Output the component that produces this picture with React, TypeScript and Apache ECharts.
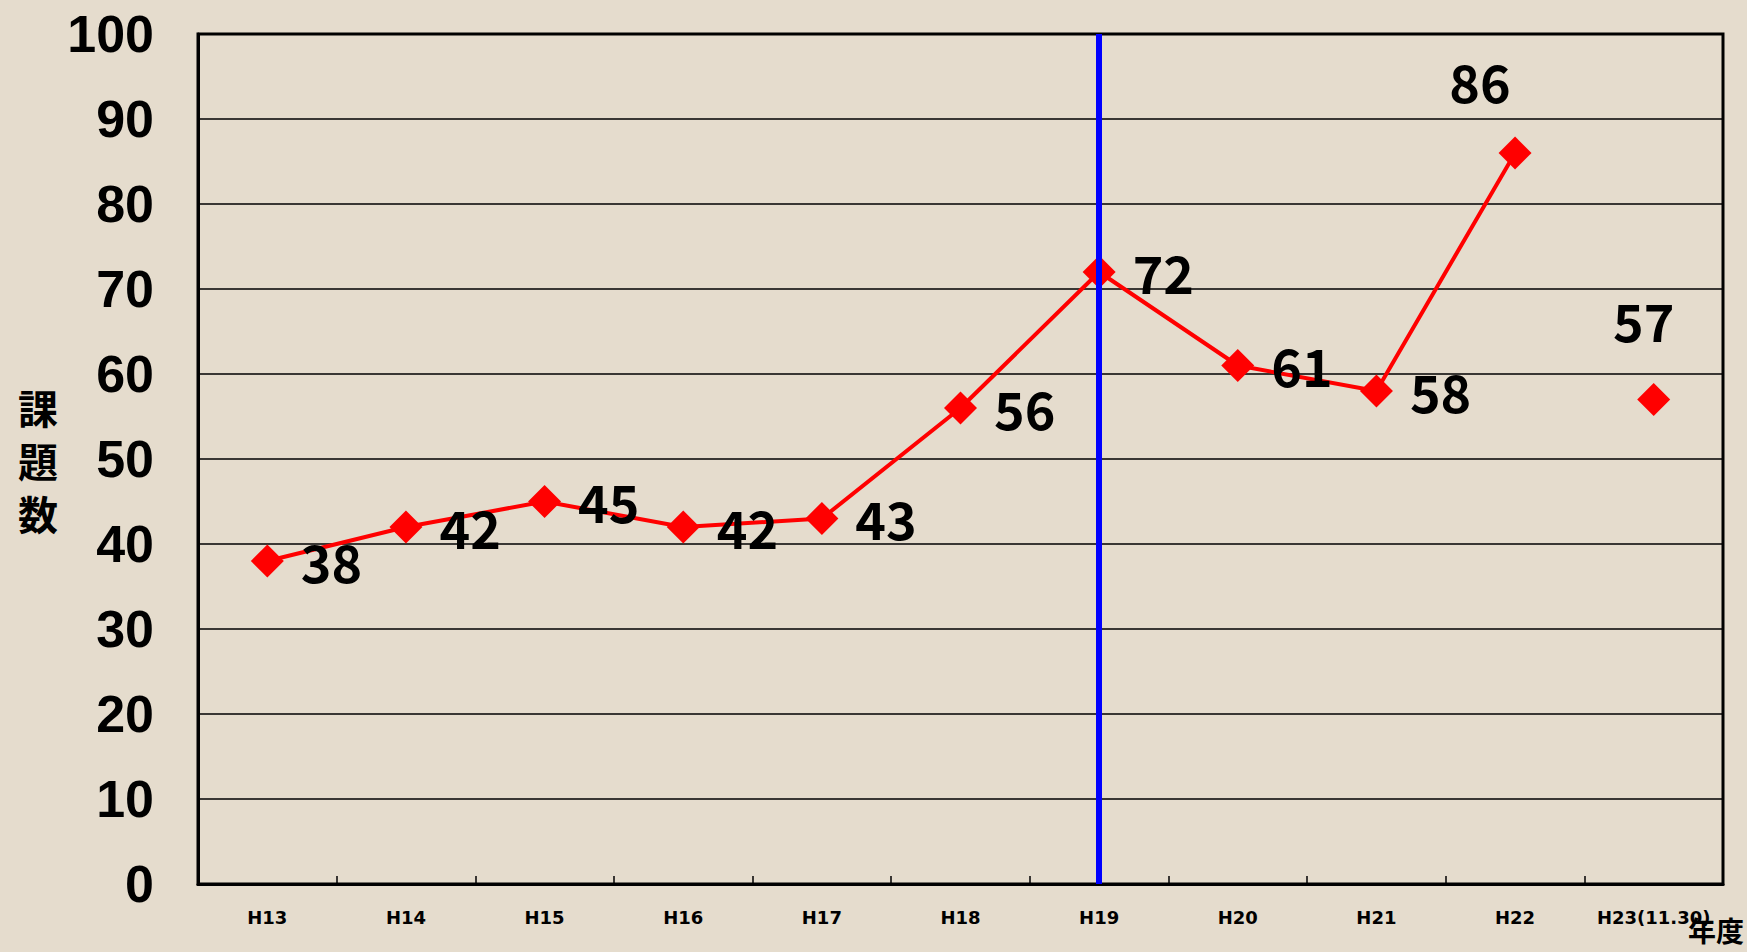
import React, { useEffect, useRef } from "react";
import * as echarts from "echarts";

// Fiscal years on the x axis
const categories = [
  "H13", "H14", "H15", "H16", "H17", "H18", "H19", "H20", "H21", "H22", "H23(11.30)",
];

// Yearly issue counts H13–H22 (connected line)
const issueCounts = [38, 42, 45, 42, 43, 56, 72, 61, 58, 86];

// H23 partial-year count (as of 11.30), drawn as a standalone point
const latestCount = 57;

// Year marked with the vertical reference line
const markedYear = "H19";

// Vertical axis title, one character per line
const yTitleChars = ["課", "題", "数"];

const yTicks = { min: 0, max: 100, interval: 10 };

const BG = "#e5dccd";
const RED = "#ff0000";

export default function App() {
  const ref = useRef<HTMLDivElement>(null);

  useEffect(() => {
    if (!ref.current) return;
    const chart = echarts.init(ref.current, undefined, { renderer: "svg" });

    const labelBase = {
      show: true,
      position: "right" as const,
      distance: 17,
      offset: [0, -1],
      color: "#000",
      fontSize: 52,
      fontWeight: "bold" as const,
      fontFamily: "'Noto Sans CJK JP', sans-serif",
    };

    const lineData = issueCounts.map((v) => {
      if (v === 86) {
        return {
          value: v,
          label: { position: "top" as const, distance: 30, offset: [-35, 0] },
        };
      }
      return v;
    });
    const padded = [...lineData, null];

    const latestData = categories.map((_, i) =>
      i === categories.length - 1 ? latestCount : null
    );

    const titleGraphics = yTitleChars.map((ch, i) => ({
      type: "text",
      x: 38,
      y: 407 + i * 53,
      style: {
        text: ch,
        font: "bold 40px 'Noto Sans CJK JP', sans-serif",
        fill: "#000",
        align: "center",
        verticalAlign: "middle",
      },
    }));

    chart.setOption({
      animation: false,
      backgroundColor: BG,
      grid: {
        left: 198,
        top: 34,
        width: 1525,
        height: 850,
        show: true,
        borderColor: "#000",
        borderWidth: 3,
        backgroundColor: "transparent",
      },
      xAxis: {
        type: "category",
        data: categories,
        boundaryGap: true,
        axisLine: { show: true, lineStyle: { color: "#000", width: 3 } },
        axisTick: {
          show: true,
          inside: true,
          length: 8,
          lineStyle: { color: "#000", width: 1.5 },
        },
        axisLabel: {
          color: "#000",
          fontSize: 18,
          fontWeight: "bold",
          fontFamily: "'DejaVu Sans', sans-serif",
          margin: 24,
          interval: 0,
        },
        splitLine: { show: false },
      },
      yAxis: {
        type: "value",
        min: yTicks.min,
        max: yTicks.max,
        interval: yTicks.interval,
        axisLine: { show: true, lineStyle: { color: "#000", width: 3 } },
        axisTick: { show: false },
        axisLabel: {
          color: "#000",
          fontSize: 52,
          fontWeight: "bold",
          fontFamily: "'Liberation Sans', Arial, sans-serif",
          margin: 44,
        },
        splitLine: { show: true, lineStyle: { color: "#000", width: 1.5 } },
      },
      graphic: [
        ...titleGraphics,
        {
          type: "text",
          x: 1744,
          y: 930,
          style: {
            text: "年度",
            font: "bold 28px 'Noto Sans CJK JP', sans-serif",
            fill: "#000",
            align: "right",
            verticalAlign: "middle",
          },
        },
      ],
      series: [
        {
          name: "課題数",
          type: "line",
          data: padded,
          z: 3,
          symbol: "diamond",
          symbolSize: 33,
          showSymbol: true,
          showAllSymbol: true,
          connectNulls: false,
          lineStyle: { color: RED, width: 4 },
          itemStyle: { color: RED, opacity: 1 },
          label: labelBase,
        },
        {
          name: "課題数(H23)",
          type: "scatter",
          data: latestData,
          z: 3,
          symbol: "diamond",
          symbolSize: 33,
          itemStyle: { color: RED, opacity: 1 },
          label: { ...labelBase, position: "top", distance: 38, offset: [-10, 0] },
        },
        {
          name: "marker",
          type: "line",
          data: [],
          z: 6,
          silent: true,
          markLine: {
            silent: true,
            symbol: ["none", "none"],
            label: { show: false },
            lineStyle: { color: "#0000ff", width: 6, type: "solid", opacity: 1 },
            data: [{ xAxis: markedYear }],
          },
        },
      ],
    });

    return () => chart.dispose();
  }, []);

  return (
    <div
      ref={ref}
      style={{
        position: "fixed",
        left: 0,
        top: 0,
        width: 1747,
        height: 952,
        background: BG,
      }}
    />
  );
}
